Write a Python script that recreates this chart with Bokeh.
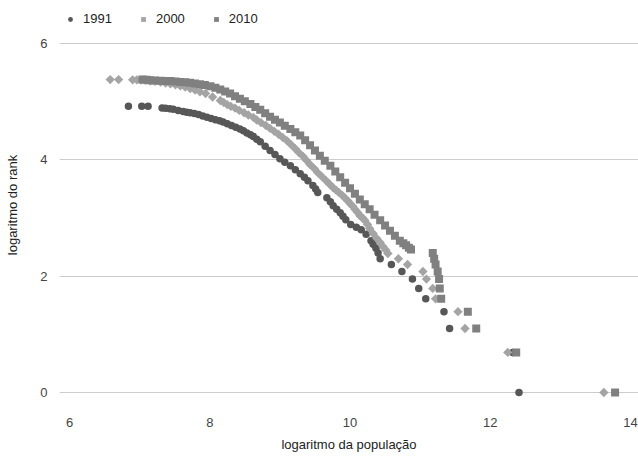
import math
from bokeh.plotting import figure
from bokeh.models import Legend, LegendItem, FixedTicker, Range1d
from bokeh.embed import file_html
from bokeh.resources import INLINE

years = ["1991", "2000", "2010"]
x_ticks = [6, 8, 10, 12, 14]
y_ticks = [0, 2, 4, 6]

# 1991 (log population, log rank)
x_1991 = [6.84, 7.03, 7.12, 7.32, 7.37, 7.43, 7.48, 7.55, 7.62, 7.67,
          7.72, 7.78, 7.84, 7.90, 7.96, 8.02, 8.08, 8.14, 8.19, 8.25,
          8.31, 8.37, 8.43, 8.48, 8.53, 8.58, 8.62, 8.67, 8.72, 8.79,
          8.86, 8.93, 9.00, 9.07, 9.15, 9.22, 9.29, 9.35, 9.40, 9.47,
          9.51, 9.54, 9.67, 9.72, 9.76, 9.81, 9.86, 9.90, 9.94, 10.01,
          10.09, 10.16, 10.23, 10.30, 10.33, 10.37, 10.40, 10.43, 10.59, 10.74,
          10.89, 10.98, 11.08, 11.34, 11.42, 12.32, 12.41]
y_1991 = [4.92, 4.92, 4.92, 4.89, 4.885, 4.88, 4.87, 4.85, 4.83, 4.82,
          4.81, 4.795, 4.78, 4.755, 4.73, 4.71, 4.69, 4.67, 4.65, 4.62,
          4.59, 4.56, 4.53, 4.50, 4.46, 4.43, 4.40, 4.355, 4.31, 4.235,
          4.16, 4.09, 4.02, 3.96, 3.90, 3.83, 3.76, 3.70, 3.64, 3.56,
          3.50, 3.44, 3.35, 3.28, 3.21, 3.15, 3.09, 3.03, 2.97, 2.89,
          2.84, 2.80, 2.72, 2.61, 2.55, 2.48, 2.40, 2.30, 2.20, 2.08,
          1.95, 1.79, 1.61, 1.39, 1.10, 0.69, 0.0]

# 2000
x_2000 = [6.58, 6.70, 6.90, 6.96, 7.02, 7.08, 7.15, 7.22, 7.30, 7.37,
          7.44, 7.51, 7.58, 7.65, 7.72, 7.79, 7.86, 7.94, 8.04, 8.15,
          8.20, 8.25, 8.30, 8.36, 8.42, 8.49, 8.55, 8.62, 8.67, 8.73,
          8.80, 8.86, 8.92, 8.98, 9.04, 9.10, 9.16, 9.22, 9.27, 9.33,
          9.38, 9.43, 9.49, 9.54, 9.60, 9.66, 9.71, 9.76, 9.80, 9.84,
          9.89, 9.93, 9.97, 10.00, 10.04, 10.07, 10.11, 10.14, 10.18, 10.21,
          10.25, 10.28, 10.33, 10.38, 10.43, 10.47, 10.51, 10.54, 10.69, 10.82,
          11.04, 11.09, 11.18, 11.22, 11.54, 11.64, 12.25, 13.62]
y_2000 = [5.38, 5.38, 5.375, 5.375, 5.37, 5.365, 5.355, 5.35, 5.335, 5.32,
          5.305, 5.29, 5.27, 5.25, 5.225, 5.20, 5.17, 5.14, 5.08, 5.02,
          4.985, 4.95, 4.92, 4.89, 4.85, 4.81, 4.77, 4.73, 4.685, 4.64,
          4.59, 4.54, 4.49, 4.44, 4.385, 4.33, 4.26, 4.19, 4.125, 4.06,
          3.99, 3.92, 3.85, 3.78, 3.71, 3.64, 3.58, 3.52, 3.48, 3.44,
          3.39, 3.34, 3.295, 3.25, 3.20, 3.15, 3.095, 3.04, 3.00, 2.96,
          2.89, 2.82, 2.735, 2.65, 2.58, 2.51, 2.45, 2.39, 2.30, 2.20,
          2.08, 1.95, 1.79, 1.61, 1.39, 1.10, 0.69, 0.0]

# 2010
x_2010 = [7.04, 7.10, 7.15, 7.22, 7.30, 7.37, 7.44, 7.51, 7.58, 7.65,
          7.72, 7.79, 7.86, 7.93, 8.01, 8.08, 8.15, 8.22, 8.29, 8.36,
          8.43, 8.50, 8.58, 8.65, 8.72, 8.79, 8.86, 8.93, 9.00, 9.07,
          9.15, 9.22, 9.29, 9.36, 9.43, 9.50, 9.57, 9.64, 9.72, 9.79,
          9.86, 9.93, 10.00, 10.07, 10.14, 10.21, 10.28, 10.35, 10.43, 10.50,
          10.57, 10.64, 10.71, 10.76, 10.80, 10.84, 10.87, 11.18, 11.20, 11.22,
          11.25, 11.27, 11.28, 11.30, 11.68, 11.80, 12.37, 13.78]
y_2010 = [5.38, 5.375, 5.37, 5.365, 5.36, 5.357, 5.353, 5.348, 5.34, 5.333,
          5.325, 5.313, 5.30, 5.285, 5.265, 5.24, 5.21, 5.175, 5.14, 5.095,
          5.05, 5.005, 4.96, 4.91, 4.86, 4.80, 4.74, 4.69, 4.64, 4.585,
          4.53, 4.475, 4.42, 4.335, 4.25, 4.16, 4.07, 3.985, 3.90, 3.80,
          3.70, 3.605, 3.51, 3.415, 3.32, 3.235, 3.15, 3.055, 2.96, 2.87,
          2.78, 2.695, 2.61, 2.565, 2.53, 2.49, 2.46, 2.40, 2.30, 2.20,
          2.08, 1.95, 1.79, 1.61, 1.39, 1.10, 0.69, 0.0]

FONT = "Liberation Sans"

p = figure(width=638, height=457, output_backend="svg", toolbar_location=None,
           x_range=Range1d(5.857, 14.114), y_range=Range1d(-0.292, 6.739),
           min_border_left=59, min_border_right=0, min_border_top=0,
           min_border_bottom=48)
p.outline_line_color = None
p.background_fill_color = "white"
p.border_fill_color = "white"

r1 = p.scatter(x_1991, y_1991, marker="circle", size=7.5, fill_color="#575757",
               line_color=None)
r2 = p.scatter(x_2000, y_2000, marker="square", angle=math.pi / 4, size=6.6,
               fill_color="#a4a4a4", line_color=None)
r3 = p.scatter(x_2010, y_2010, marker="square", size=8, fill_color="#808080",
               line_color=None)

p.xaxis.ticker = FixedTicker(ticks=x_ticks)
p.yaxis.ticker = FixedTicker(ticks=y_ticks)
for ax in (p.xaxis[0], p.yaxis[0]):
    ax.axis_line_color = None
    ax.major_tick_line_color = None
    ax.minor_tick_line_color = None
    ax.major_tick_in = 0
    ax.major_tick_out = 0
    ax.major_label_text_font = FONT
    ax.major_label_text_font_size = "13px"
    ax.major_label_text_color = "#444444"
    ax.axis_label_text_font = FONT
    ax.axis_label_text_font_size = "13px"
    ax.axis_label_text_font_style = "normal"
    ax.axis_label_text_color = "#222222"

p.xaxis.axis_label = "logaritmo da população"
p.yaxis.axis_label = "logaritmo do rank"
p.xaxis.major_label_standoff = 8
p.xaxis.axis_label_standoff = 7
p.yaxis.major_label_standoff = 12
p.yaxis.axis_label_standoff = 17

p.xgrid.visible = False
p.ygrid.grid_line_color = "#cccccc"
p.ygrid.grid_line_width = 1

legend = Legend(items=[LegendItem(label=years[0], renderers=[r1]),
                       LegendItem(label=years[1], renderers=[r2]),
                       LegendItem(label=years[2], renderers=[r3])],
                orientation="horizontal", location=(5, 383),
                margin=0, padding=0, spacing=25, glyph_width=12, glyph_height=12,
                label_standoff=7, label_text_font=FONT, label_text_font_size="13px",
                label_text_color="#222222", background_fill_alpha=0,
                border_line_alpha=0)
p.add_layout(legend)

open("out.html", "w").write(file_html(p, INLINE))
